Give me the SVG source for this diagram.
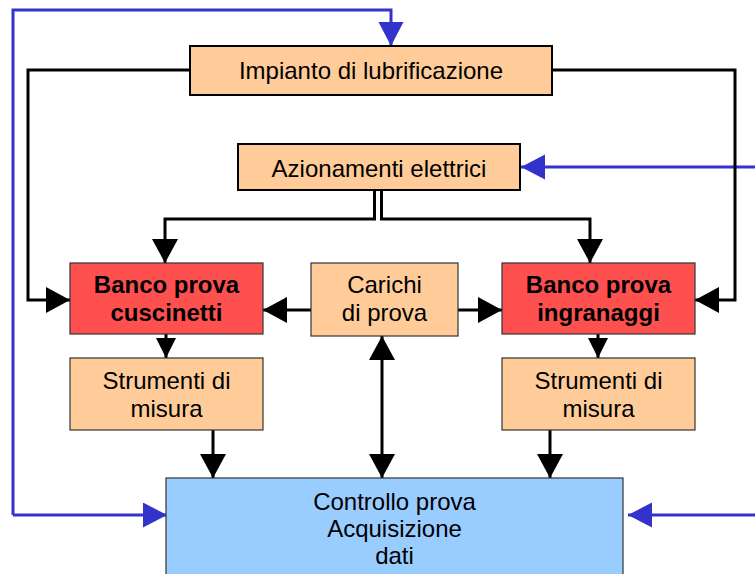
<svg xmlns="http://www.w3.org/2000/svg" width="755" height="574" viewBox="0 0 755 574">
<style>
.t{font-family:"Liberation Sans",Arial,sans-serif;font-size:24px;fill:#000;text-anchor:middle}
.b{font-weight:bold}
.org{fill:#FFCC99;stroke:#000;stroke-width:2}
.org1{fill:#FFCC99;stroke:#333;stroke-width:1.2}
.red{fill:#FF5050;stroke:#333;stroke-width:1.2}
.blu{fill:#99CCFF;stroke:#333;stroke-width:1.2}
.k{fill:none;stroke:#000;stroke-width:3}
.bl{fill:none;stroke:#3333CC;stroke-width:3}
</style>
<defs>
<marker id="ak" markerUnits="userSpaceOnUse" markerWidth="26" markerHeight="26" refX="24" refY="13" orient="auto"><path d="M0,0 L24,13 L0,26 z" fill="#000"/></marker>
<marker id="aks" markerUnits="userSpaceOnUse" markerWidth="20" markerHeight="20" refX="20" refY="10" orient="auto"><path d="M0,0 L20,10 L0,20 z" fill="#000"/></marker>
<marker id="akr" markerUnits="userSpaceOnUse" markerWidth="26" markerHeight="26" refX="24" refY="13" orient="auto-start-reverse"><path d="M0,0 L24,13 L0,26 z" fill="#000"/></marker>
<marker id="ab" markerUnits="userSpaceOnUse" markerWidth="26" markerHeight="26" refX="24" refY="12.5" orient="auto"><path d="M0,0 L24,12.5 L0,25 z" fill="#3333CC"/></marker>
</defs>
<g id="connectors">
<path class="bl" d="M13,515 V10 H391 V46" marker-end="url(#ab)"/>
<path class="bl" d="M13,515 H167" marker-end="url(#ab)"/>
<path class="bl" d="M755,167 H521" marker-end="url(#ab)"/>
<path class="bl" d="M755,515 H628" marker-end="url(#ab)"/>
<path class="k" d="M190,70 H28 V300 H70" marker-end="url(#ak)"/>
<path class="k" d="M552,70 H735 V300 H695" marker-end="url(#ak)"/>
<path class="k" d="M374.5,190 V219 H165 V263" marker-end="url(#ak)"/>
<path class="k" d="M381.5,190 V219 H590 V263" marker-end="url(#ak)"/>
<path class="k" d="M311,310 H263" marker-end="url(#ak)"/>
<path class="k" d="M458,310 H502" marker-end="url(#ak)"/>
<path class="k" d="M166,334 V358" marker-end="url(#aks)"/>
<path class="k" d="M598,334 V358" marker-end="url(#aks)"/>
<path class="k" d="M213,430 V478" marker-end="url(#ak)"/>
<path class="k" d="M550,430 V478" marker-end="url(#ak)"/>
<path class="k" d="M382,336 V478" marker-start="url(#akr)" marker-end="url(#ak)"/>
</g>
<g id="impianto"><rect class="org" x="190" y="46" width="362" height="49"/><text class="t" x="371" y="79">Impianto di lubrificazione</text></g>
<g id="azionamenti"><rect class="org" x="238" y="144" width="282" height="46"/><text class="t" x="379" y="177">Azionamenti elettrici</text></g>
<g id="banco-cuscinetti"><rect class="red" x="70" y="263" width="193" height="71"/><text class="t b" x="166.5" y="293">Banco prova</text><text class="t b" x="166.5" y="321">cuscinetti</text></g>
<g id="carichi"><rect class="org1" x="311" y="263" width="147" height="73"/><text class="t" x="384.5" y="293">Carichi</text><text class="t" x="384.5" y="321">di prova</text></g>
<g id="banco-ingranaggi"><rect class="red" x="502" y="263" width="193" height="71"/><text class="t b" x="598.5" y="293">Banco prova</text><text class="t b" x="598.5" y="321">ingranaggi</text></g>
<g id="strumenti-1"><rect class="org1" x="70" y="358" width="193" height="72"/><text class="t" x="166.5" y="389">Strumenti di</text><text class="t" x="166.5" y="417">misura</text></g>
<g id="strumenti-2"><rect class="org1" x="502" y="358" width="193" height="72"/><text class="t" x="598.5" y="389">Strumenti di</text><text class="t" x="598.5" y="417">misura</text></g>
<g id="controllo"><rect class="blu" x="166" y="478" width="457" height="110"/><text class="t" x="394.5" y="510">Controllo prova</text><text class="t" x="394.5" y="537">Acquisizione</text><text class="t" x="394.5" y="564">dati</text></g>
</svg>
